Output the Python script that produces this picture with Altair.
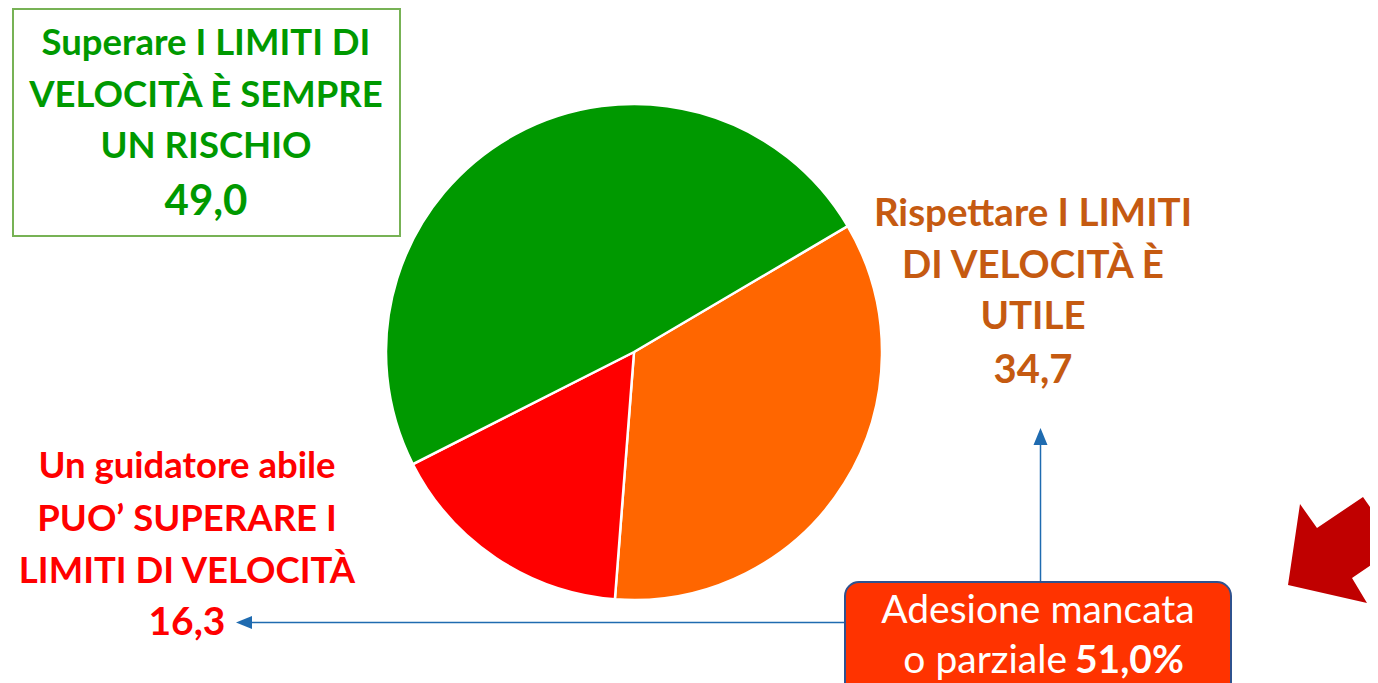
import math
import altair as alt
import pandas as pd

# ---- data -------------------------------------------------------------
keys = ["rispettare", "guidatore", "superare"]
labels = [
    "Rispettare I LIMITI\nDI VELOCITÀ È\nUTILE",
    "Un guidatore abile\nPUO’ SUPERARE I\nLIMITI DI VELOCITÀ",
    "Superare  I LIMITI DI\nVELOCITÀ È SEMPRE\nUN RISCHIO",
]
values = [34.7, 16.3, 49.0]
slice_colors = ["#FF6600", "#FF0000", "#009900"]
label_colors = ["#C55A11", "#FF0000", "#009900"]
box_line1 = "Adesione mancata"
box_line2 = "o parziale"
partial = values[0] + values[1]
partial_txt = f"{partial:.1f}".replace(".", ",") + "%"

df = pd.DataFrame({"cat": keys, "label": labels, "value": values,
                   "ord": list(range(len(keys)))})
one = pd.DataFrame({"a": [0]})

OFF = 8  # page margin
FONT = "Lato"


def px(v):
    return alt.value(v - OFF)


start = math.radians(59.5)

pie = alt.Chart(df).mark_arc(radius=248, stroke="white", strokeWidth=2.5).encode(
    theta=alt.Theta("value:Q", stack=True,
                    scale=alt.Scale(range=[start, start + 2 * math.pi])),
    color=alt.Color("cat:N", scale=alt.Scale(domain=keys, range=slice_colors),
                    legend=None),
    order=alt.Order("ord:Q"),
    x=px(634), y=px(352),
)

green_box = alt.Chart(one).mark_rect(fill="white", stroke="#77B255",
                                     strokeWidth=2).encode(
    x=px(13), x2=px(400), y=px(9), y2=px(236))


def label_layer(key, color, cx, y0, lh, fs, vy, vfs):
    base = alt.Chart(df).transform_filter(alt.datum.cat == key)
    t = base.mark_text(font=FONT, fontWeight="bold", fontSize=fs,
                       lineBreak="\n", lineHeight=lh, align="center",
                       baseline="alphabetic", color=color).encode(
        text="label:N", x=px(cx), y=px(y0))
    v = base.transform_calculate(
        vtxt="replace(format(datum.value, '.1f'), '.', ',')"
    ).mark_text(font=FONT, fontWeight="bold", fontSize=vfs, align="center",
                baseline="alphabetic", color=color).encode(
        text="vtxt:N", x=px(cx), y=px(vy))
    return [t, v]


lbl_orange = label_layer("rispettare", label_colors[0], 1033, 226, 51.5, 38.5, 383, 40)
lbl_red = label_layer("guidatore", label_colors[1], 187, 478, 52.5, 36.5, 635, 39)
lbl_green = label_layer("superare", label_colors[2], 206, 55, 51.5, 36.5, 215, 42)

BLUE = "#1F6BB0"
h_rule = alt.Chart(one).mark_rule(color=BLUE, strokeWidth=1.5).encode(
    x=px(250), x2=px(846), y=px(622.5), y2=px(622.5))
v_rule = alt.Chart(one).mark_rule(color=BLUE, strokeWidth=1.5).encode(
    x=px(1040.5), x2=px(1040.5), y=px(442), y2=px(582))
head_left = alt.Chart(one).mark_point(
    shape="M 0 0 L 16 -6.5 L 16 6.5 Z", size=4, filled=True, fill=BLUE,
    strokeWidth=0, opacity=1).encode(x=px(236), y=px(622.5))
head_up = alt.Chart(one).mark_point(
    shape="M 0 0 L -7 17 L 7 17 Z", size=4, filled=True, fill=BLUE,
    strokeWidth=0, opacity=1).encode(x=px(1040.5), y=px(428))

red_box = alt.Chart(one).mark_rect(fill="#FF3300", stroke="#2F528F",
                                   strokeWidth=2, cornerRadius=14).encode(
    x=px(845), x2=px(1231), y=px(582), y2=px(720))
box_t1 = alt.Chart(one).mark_text(font=FONT, fontSize=39, color="white",
                                  align="center", baseline="alphabetic").encode(
    text=alt.value(box_line1), x=px(1038), y=px(623))
box_t2 = alt.Chart(one).mark_text(font=FONT, fontSize=39, color="white",
                                  align="right", baseline="alphabetic").encode(
    text=alt.value(box_line2), x=px(1067), y=px(673))
box_t3 = alt.Chart(one).mark_text(font=FONT, fontSize=39, fontWeight="bold",
                                  color="white", align="left",
                                  baseline="alphabetic").encode(
    text=alt.value(partial_txt), x=px(1075), y=px(673))

big_arrow = alt.Chart(one).mark_point(
    shape="M -42 35 L -30 -46 L -13 -22 L 33 -53 L 68 -3 L 22 28 L 37 53 Z",
    size=4, filled=True, fill="#C00000", strokeWidth=0, opacity=1).encode(
    x=px(1330), y=px(550))

chart = alt.layer(
    green_box, pie, *lbl_green, *lbl_orange, *lbl_red,
    h_rule, v_rule, head_left, head_up,
    red_box, box_t1, box_t2, box_t3, big_arrow,
).properties(
    width=1362, height=675, padding=0,
    autosize=alt.AutoSizeParams(type="none"),
    background="white",
).configure_view(stroke=None)

chart.save("out.html", embed_options={"renderer": "svg", "actions": False})
